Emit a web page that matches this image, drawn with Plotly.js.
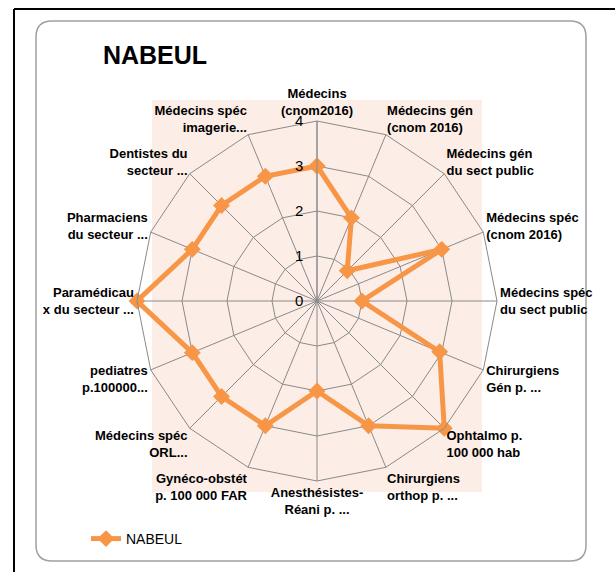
<!DOCTYPE html>
<html>
<head>
<meta charset="utf-8">
<script src="https://cdn.plot.ly/plotly-3.0.1.min.js"></script>
<style>
  html, body { margin: 0; padding: 0; background: #fff; }
  #chart { width: 615px; height: 572px; }
</style>
</head>
<body>
<div id="chart"></div>
<script>
// Radar NABEUL — indicateurs de santé (échelle 0–4), lecture sens horaire depuis le haut

const categories = [
    'Médecins<br>(cnom2016)',
    'Médecins gén<br>(cnom 2016)',
    'Médecins gén<br>du sect public',
    'Médecins spéc<br>(cnom 2016)',
    'Médecins spéc<br>du sect public',
    'Chirurgiens<br>Gén p. ...',
    'Ophtalmo p.<br>100 000 hab',
    'Chirurgiens<br>orthop p. ...',
    'Anesthésistes-<br>Réani p. ...',
    'Gynéco-obstét<br>p. 100 000 FAR',
    'Médecins spéc<br>ORL...',
    'pediatres<br>p.100000...',
    'Paramédicau<br>x du secteur ...',
    'Pharmaciens<br>du secteur ...',
    'Dentistes du<br>secteur ...',
    'Médecins spéc<br>imagerie...',
];
const nabeul = [3, 2, 0.95, 3, 1, 2.95, 4, 3, 2, 3, 3, 3, 4, 3, 3, 3];
const radialTicks = [0, 1, 2, 3, 4];

const FONT = '"Liberation Sans Narrow", "Arial Narrow", "Liberation Sans", sans-serif';
const ORANGE = '#F79646';
const PINK = '#FCEDE7';
const GRID = '#8a8a8a';

const W = 615, H = 572;
const px = (x) => x / W;
const py = (y) => 1 - y / H;

// rounded outer frame, in paper fractions
function roundRect(x0, y0, x1, y1, rad) {
    const rx = rad / W, ry = rad / H;
    const L = px(x0), R = px(x1), T = py(y0), B = py(y1);
    return `M${L + rx},${T} L${R - rx},${T} Q${R},${T} ${R},${T - ry} ` +
           `L${R},${B + ry} Q${R},${B} ${R - rx},${B} ` +
           `L${L + rx},${B} Q${L},${B} ${L},${B + ry} ` +
           `L${L},${T - ry} Q${L},${T} ${L + rx},${T} Z`;
}

const cx = 317, cy = 301, rad = 180;

const trace = {
    type: 'scatterpolar',
    r: nabeul.concat(nabeul[0]),
    theta: categories.concat(categories[0]),
    mode: 'lines+markers',
    name: 'NABEUL',
    line: { color: ORANGE, width: 5 },
    marker: { symbol: 'diamond', size: 13, color: ORANGE },
    hoverinfo: 'skip',
};

const layout = {
    width: W, height: H,
    margin: { t: 0, r: 0, b: 0, l: 0 },
    paper_bgcolor: '#ffffff',
    font: { family: FONT, color: '#000' },
    title: {
        text: '<b>NABEUL</b>',
        font: { family: FONT, size: 25, color: '#000' },
        xref: 'paper', yref: 'paper',
        x: px(155), xanchor: 'center',
        y: py(55), yanchor: 'middle',
    },
    polar: {
        domain: { x: [px(cx - rad), px(cx + rad)], y: [py(cy + rad), py(cy - rad)] },
        bgcolor: 'rgba(0,0,0,0)',
        gridshape: 'linear',
        radialaxis: {
            range: [0, 4],
            tickvals: radialTicks,
            angle: 90,
            tickangle: 90,
            side: 'counterclockwise',
            showline: true, linecolor: GRID, linewidth: 1,
            gridcolor: GRID, gridwidth: 1,
            ticks: 'outside', ticklen: 8, tickcolor: 'rgba(0,0,0,0)',
            tickfont: { family: FONT, size: 15, color: '#000' },
        },
        angularaxis: {
            type: 'category',
            categoryarray: categories,
            rotation: 90,
            direction: 'clockwise',
            showline: true, linecolor: GRID, linewidth: 1,
            gridcolor: GRID, gridwidth: 1,
            ticks: '',
            tickfont: { family: FONT, size: 13, color: '#000', weight: 'bold' },
        },
    },
    showlegend: true,
    legend: {
        x: px(86), xanchor: 'left',
        y: py(539), yanchor: 'middle',
        bgcolor: 'rgba(0,0,0,0)',
        font: { family: FONT, size: 14, color: '#000' },
        itemwidth: 30,
    },
    shapes: [
        // pink plot area behind the radar
        { type: 'rect', xref: 'paper', yref: 'paper', layer: 'below',
          x0: px(152), x1: px(482), y0: py(492), y1: py(100),
          fillcolor: PINK, line: { width: 0 } },
        // chart frame
        { type: 'path', xref: 'paper', yref: 'paper', layer: 'below',
          path: roundRect(36, 21, 586, 561, 16),
          line: { color: '#a0a0a0', width: 1.5 } },
        // black outer border (left + top)
        { type: 'line', xref: 'paper', yref: 'paper',
          x0: px(14), x1: px(14), y0: 0, y1: py(9),
          line: { color: '#000', width: 2 } },
        { type: 'line', xref: 'paper', yref: 'paper',
          x0: px(14), x1: 1, y0: py(9), y1: py(9),
          line: { color: '#000', width: 2 } },
    ],
};

Plotly.newPlot('chart', [trace], layout, { displayModeBar: false, staticPlot: true });
</script>
</body>
</html>
